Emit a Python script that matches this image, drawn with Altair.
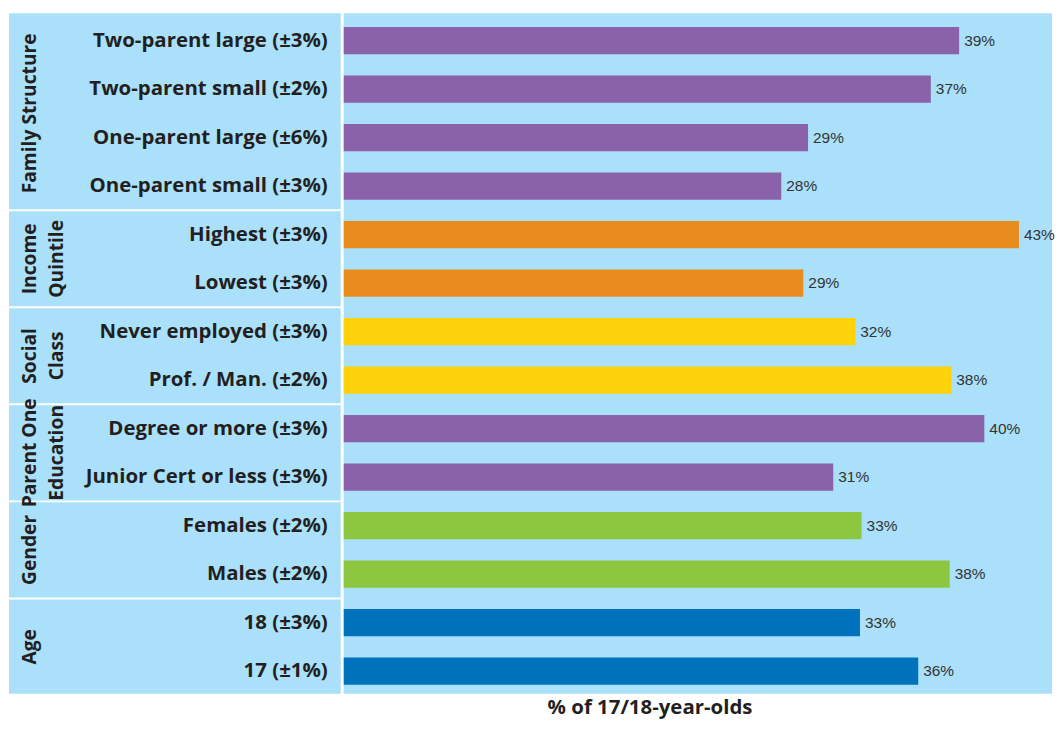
import altair as alt
import pandas as pd

groups = ["Family Structure", "Income\nQuintile", "Social\nClass",
          "Parent One\nEducation", "Gender", "Age"]
group_sizes = [4, 2, 2, 2, 2, 2]
group_colors = ["#8a62aa", "#e88c1e", "#fdd20b", "#8a62aa", "#8dc63f", "#0072bc"]

categories = ["Two-parent large (±3%)", "Two-parent small (±2%)",
              "One-parent large (±6%)", "One-parent small (±3%)",
              "Highest (±3%)", "Lowest (±3%)",
              "Never employed (±3%)", "Prof. / Man. (±2%)",
              "Degree or more (±3%)", "Junior Cert or less (±3%)",
              "Females (±2%)", "Males (±2%)",
              "18 (±3%)", "17 (±1%)"]
values = [39.1, 37.3, 29.5, 27.8, 42.9, 29.2, 32.5, 38.6, 40.7, 31.1,
          32.9, 38.5, 32.8, 36.5]
value_labels = ["39%", "37%", "29%", "28%", "43%", "29%", "32%", "38%",
                "40%", "31%", "33%", "38%", "33%", "36%"]

BG = "#aae0fa"
TXT = "#231f20"

# build tables
rows = []
grows = []
i = 0
for gi, (g, n) in enumerate(zip(groups, group_sizes)):
    grows.append({"group": g, "gid": str(gi), "center": i + (n - 1) / 2,
                  "sep": i + n - 0.5})
    for _ in range(n):
        rows.append({"row": i, "category": categories[i], "value": values[i],
                     "label": value_labels[i], "gid": str(gi)})
        i += 1
df = pd.DataFrame(rows)
gdf = pd.DataFrame(grows)

H = 683
LW = 333
RW = 711
ydom = [-0.562, 13.466]
yscale = alt.Scale(domain=ydom, reverse=True, nice=False, zero=False)

# ---------- left label panel ----------
cat_text = alt.Chart(df).mark_text(
    align="right", baseline="middle", font="Open Sans", fontWeight="bold",
    fontSize=20.5, color=TXT
).encode(
    x=alt.value(LW - 13),
    y=alt.Y("row:Q", scale=yscale, axis=None),
    text="category:N",
)

grp_text = alt.Chart(gdf).mark_text(
    angle=270, align="center", baseline="top", font="Open Sans",
    fontWeight="bold", fontSize=19.3, color=TXT, lineBreak="\n", lineHeight=27
).encode(
    x=alt.value(12),
    y=alt.Y("center:Q", scale=yscale, axis=None),
    text="group:N",
)

seps = alt.Chart(gdf[:-1]).mark_rule(color="white", strokeWidth=2).encode(
    x=alt.value(0), x2=alt.value(LW),
    y=alt.Y("sep:Q", scale=yscale, axis=None),
)

left = alt.layer(seps, grp_text, cat_text).properties(width=LW, height=H)

# ---------- right bar panel ----------
xscale = alt.Scale(domain=[0, RW / 15.8], nice=False, zero=True)
bars = alt.Chart(df).transform_calculate(
    y0="datum.row - 0.28", y1="datum.row + 0.28"
).mark_rect().encode(
    x=alt.X("value:Q", scale=xscale,
            axis=alt.Axis(title="% of 17/18-year-olds", labels=False,
                          ticks=False, domain=False, grid=False,
                          titleFont="Open Sans", titleFontWeight="bold",
                          titleFontSize=20.5, titleColor=TXT,
                          titleX=307, titleY=20, titleBaseline="alphabetic",
                          titleAlign="center")),
    x2=alt.value(0),
    y=alt.Y("y0:Q", scale=yscale, axis=None),
    y2="y1:Q",
    color=alt.Color("gid:N", scale=alt.Scale(domain=[str(k) for k in range(len(groups))],
                                             range=group_colors), legend=None),
)
vals = alt.Chart(df).mark_text(
    align="left", baseline="middle", dx=5, font="Liberation Sans",
    fontSize=15.5, color="#333333"
).encode(
    x=alt.X("value:Q", scale=xscale),
    y=alt.Y("row:Q", scale=yscale, axis=None),
    text="label:N",
)
right = alt.layer(bars, vals).properties(width=RW, height=H)

chart = alt.hconcat(left, right, spacing=2).resolve_scale(
    x="independent", y="independent", color="independent"
).properties(
    padding={"left": 0, "top": 4, "right": 0, "bottom": 0},
    background="white",
).configure_view(fill=BG, stroke=None)

chart.save("out.html", embed_options={"renderer": "svg", "actions": False})
